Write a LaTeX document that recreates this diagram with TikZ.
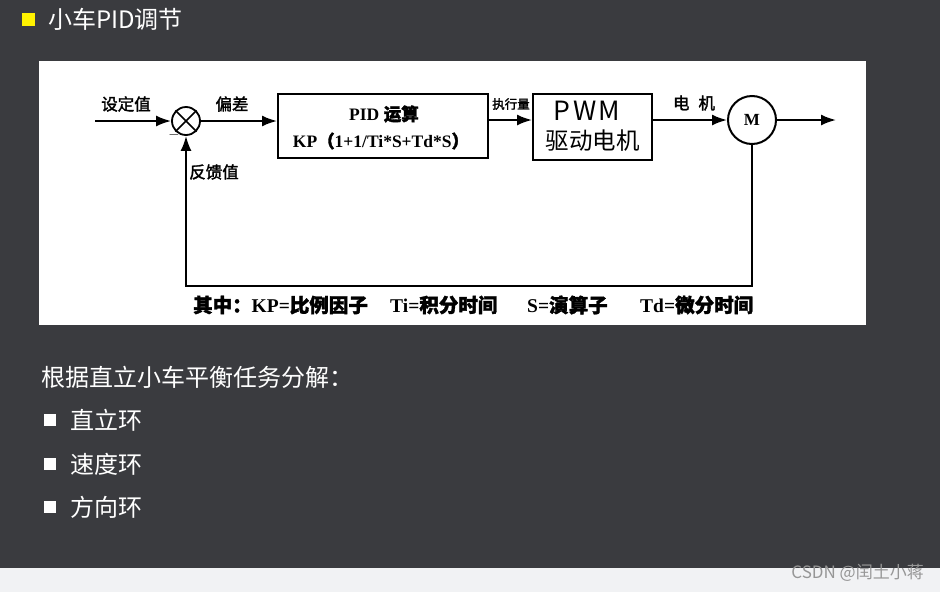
\documentclass[tikz,border=0pt]{standalone}
\usepackage{fontspec}
\setmainfont{Liberation Serif}
\newfontfamily\hei{Noto Sans CJK SC}
\newfontfamily\heib[FakeBold=1.8]{Noto Sans CJK SC}
\newfontfamily\pwmfont[LetterSpace=10]{Noto Sans CJK SC}
\usetikzlibrary{arrows.meta,positioning,calc}
\definecolor{slidebg}{HTML}{3A3B3F}
\definecolor{stripbg}{HTML}{F1F2F4}
\definecolor{markgray}{HTML}{969696}
\newcommand{\zh}[1]{{\heib #1}}
\tikzset{
  sigln/.style={-{Latex[length=15pt,width=11pt]}, line width=2pt},
  blk/.style={draw, line width=2pt, inner sep=0pt},
  lbl/.style={font=\heib\fontsize{16.5}{18}\selectfont, inner sep=0pt},
  latinb/.style={font=\bfseries\fontsize{17.5}{19}\selectfont, inner sep=0pt},
  keytxt/.style={font=\bfseries\fontsize{19.5}{21}\selectfont, inner sep=0pt, anchor=west},
  slidetxt/.style={text=white, font=\hei\fontsize{24}{28}\selectfont, inner sep=0pt, anchor=west},
  bulletsq/.style={fill=white, minimum size=12pt, inner sep=0pt},
}

\begin{document}
\begin{tikzpicture}[x=1pt,y=-1pt]
    \useasboundingbox (0,0) rectangle (940,592);
    % slide background
    \fill[slidebg] (0,0) rectangle (940,592);
    \fill[stripbg] (0,568) rectangle (940,592);
    % title
    \node[fill=yellow, minimum size=13pt, inner sep=0pt] (tsq) at (28,19) {};
    \node[slidetxt] (title) at (48,19) {小车PID调节};
    % white panel
    \fill[white] (39,61) rectangle (866,325);
    % summing point
    \node[draw, circle, line width=1.8pt, minimum size=28pt, inner sep=0pt] (sum) at (186,121) {};
    \draw[line width=1.5pt] (sum.north west) -- (sum.south east) (sum.north east) -- (sum.south west);
    \node[font=\bfseries\fontsize{14}{14}\selectfont, inner sep=0pt] (minus) at (174,135) {$-$};
    % PID block
    \node[blk, minimum width=210pt, minimum height=64pt] (pid) at (383,126) {};
    \node[latinb] (pidt) at (384,114) {PID \zh{运算}};
    \node[latinb] (pidf) at (381,141) {KP\zh{（}1+1/Ti*S+Td*S\zh{）}};
    % PWM block
    \node[blk, minimum width=119pt, minimum height=66pt] (pwm) at (592.5,126.5) {};
    \node[font=\pwmfont\fontsize{26.5}{28}\selectfont, inner sep=0pt] (pwmt) at (587,111) {PWM};
    \node[font=\hei\fontsize{23.5}{26}\selectfont, inner sep=0pt] (pwmd) at (592.5,141) {驱动电机};
    % motor
    \node[draw, circle, line width=2pt, minimum size=48pt, inner sep=0pt,
          font=\bfseries\fontsize{17}{18}\selectfont] (motor) at (752,120) {M};
    \coordinate (in) at (95,121);
    \coordinate (out) at (836,120);
    \coordinate (fbc) at (186,286);
    % signal lines
    \draw[sigln] (in) -- (sum.west);
    \draw[sigln] (sum.east) -- (sum.east -| pid.west);
    \draw[sigln] (pid.east |- motor.west) -- (pwm.west |- motor.west);
    \draw[sigln] (pwm.east |- motor.west) -- (motor.west);
    \draw[sigln] (motor.east) -- (out);
    \draw[sigln] (motor.south) |- (fbc) -- (sum.south);
    % labels
    \node[lbl] (lblset) at (126,104) {设定值};
    \node[lbl] (lbldev) at (232,104) {偏差};
    \node[lbl] (lblfb) at (214,172) {反馈值};
    \node[lbl, font=\heib\fontsize{12.5}{14}\selectfont] (lblact) at (511,104) {执行量};
    \node[lbl] (lblmot) at (694,103) {电\hspace{9pt}机};
    % legend
    \node[keytxt] (keykp) at (193,305) {\zh{其中：}KP=\zh{比例因子}};
    \node[keytxt] (keyti) at (390,305) {Ti=\zh{积分时间}};
    \node[keytxt] (keys) at (527,305) {S=\zh{演算子}};
    \node[keytxt] (keytd) at (640,305) {Td=\zh{微分时间}};
    % task list
    \node[slidetxt] (intro) at (41,377) {根据直立小车平衡任务分解：};
    \node[bulletsq] (b1) at (50,420) {};
    \node[slidetxt] (l1) at (70,420) {直立环};
    \node[bulletsq] (b2) at (50,464) {};
    \node[slidetxt] (l2) at (70,464) {速度环};
    \node[bulletsq] (b3) at (50,507) {};
    \node[slidetxt] (l3) at (70,507) {方向环};
    % watermark
    \node[text=markgray, font=\hei\fontsize{17}{19}\selectfont, anchor=east, inner sep=0pt] (wm) at (924,573) {CSDN @闰土小蒋};
\end{tikzpicture}
\end{document}
